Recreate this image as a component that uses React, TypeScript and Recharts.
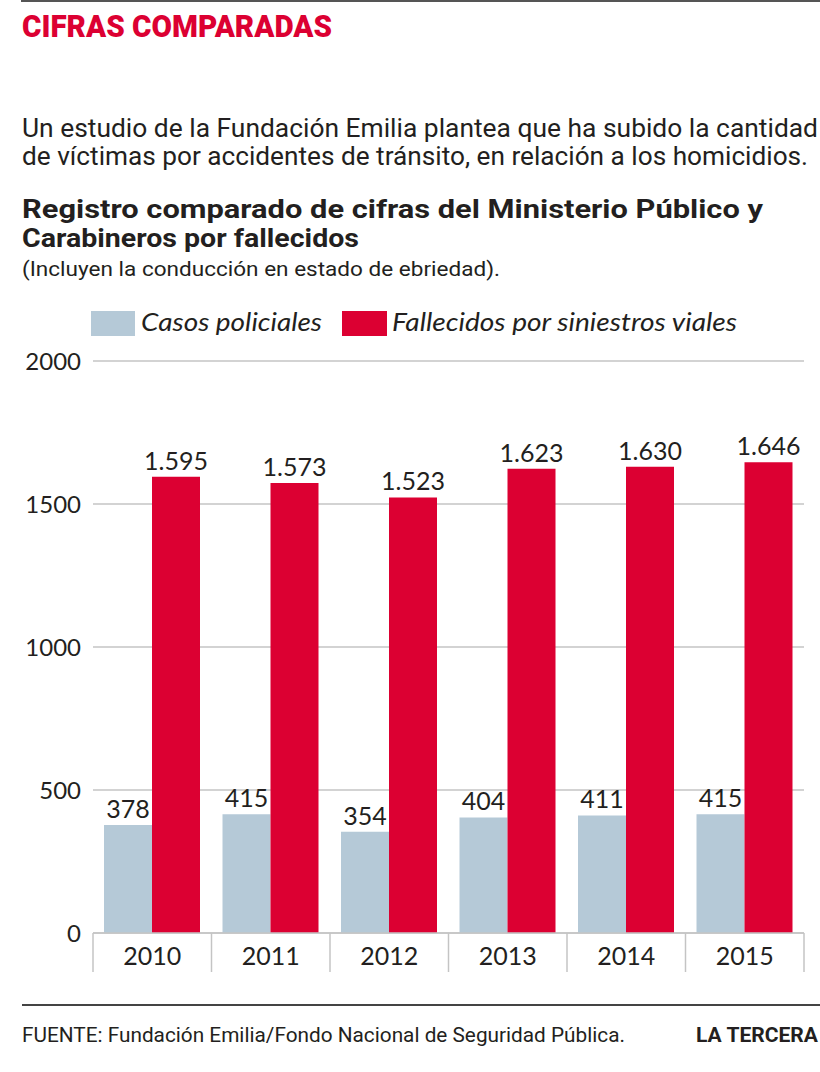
import { BarChart, Bar, XAxis, YAxis, CartesianGrid, LabelList } from 'recharts';

const YEARS = ['2010', '2011', '2012', '2013', '2014', '2015'];
const CASOS_POLICIALES = [378, 415, 354, 404, 411, 415];
const FALLECIDOS_SINIESTROS = [1595, 1573, 1523, 1623, 1630, 1646];
const Y_TICKS = [0, 500, 1000, 1500, 2000];

const SERIES_NAMES = ['Casos policiales', 'Fallecidos por siniestros viales'];

const GRAY = '#b5c9d7';
const RED = '#dc0032';
const INK = '#231f20';
const GRID = '#c4c4c4';

const CHART_W = 820;
const CHART_H = 650;
const MARGIN = { top: 21, right: 16, bottom: 17, left: 0 };
const Y_AXIS_W = 93;
const BAND = (CHART_W - MARGIN.left - MARGIN.right - Y_AXIS_W) / YEARS.length;

const data = YEARS.map((year, i) => ({
  year,
  casos: CASOS_POLICIALES[i],
  fallecidos: FALLECIDOS_SINIESTROS[i],
}));

// 1595 -> "1.595"
const fmtThousands = (v: any) => String(v).replace(/\B(?=(\d{3})+(?!\d))/g, '.');

function YearTick({ x, y, payload, index }: any) {
  const half = BAND / 2;
  return (
    <g>
      <line x1={x - half} x2={x - half} y1={y} y2={y + 39} stroke={GRID} strokeWidth={1.5} />
      {index === YEARS.length - 1 && (
        <line x1={x + half} x2={x + half} y1={y} y2={y + 39} stroke={GRID} strokeWidth={1.5} />
      )}
      <text x={x} y={y + 32} textAnchor="middle" fill={INK} fontSize={25} fontFamily="Lato">
        {payload.value}
      </text>
    </g>
  );
}

const sans = 'Roboto, "Noto Sans", sans-serif';

export default function App() {
  return (
    <div style={{ position: 'relative', width: 820, height: 1072, background: '#fff', overflow: 'hidden' }}>
      <style>{`body{margin:0}`}</style>

      <svg width={820} height={340} style={{ position: 'absolute', top: 0, left: 0 }}>
        <rect x={21} y={0} width={799} height={2} fill="#555" />
        <text x={22} y={37} fontSize={31} fontWeight={900} fill={RED} fontFamily={sans} textLength={310} lengthAdjust="spacingAndGlyphs">
          CIFRAS COMPARADAS
        </text>
        <text x={22} y={137} fontSize={26} fill={INK} fontFamily={sans} textLength={796} lengthAdjust="spacingAndGlyphs">
          Un estudio de la Fundación Emilia plantea que ha subido la cantidad
        </text>
        <text x={22} y={165} fontSize={26} fill={INK} fontFamily={sans} textLength={786} lengthAdjust="spacingAndGlyphs">
          de víctimas por accidentes de tránsito, en relación a los homicidios.
        </text>
        <text x={22} y={218} fontSize={26} fontWeight={700} fill={INK} fontFamily={sans} textLength={741} lengthAdjust="spacingAndGlyphs">
          Registro comparado de cifras del Ministerio Público y
        </text>
        <text x={22} y={247} fontSize={26} fontWeight={700} fill={INK} fontFamily={sans} textLength={337} lengthAdjust="spacingAndGlyphs">
          Carabineros por fallecidos
        </text>
        <text x={22} y={276} fontSize={21} fill={INK} fontFamily={sans} textLength={478} lengthAdjust="spacingAndGlyphs">
          (Incluyen la conducción en estado de ebriedad).
        </text>

        <rect x={91} y={311} width={44} height={25} fill={GRAY} />
        <text x={141} y={331} fontSize={25} fontStyle="italic" fill={INK} fontFamily="Lato" textLength={181} lengthAdjust="spacingAndGlyphs">
          {SERIES_NAMES[0]}
        </text>
        <rect x={342} y={311} width={45} height={25} fill={RED} />
        <text x={392} y={331} fontSize={25} fontStyle="italic" fill={INK} fontFamily="Lato" textLength={345} lengthAdjust="spacingAndGlyphs">
          {SERIES_NAMES[1]}
        </text>
      </svg>

      <div style={{ position: 'absolute', top: 340, left: 0 }}>
        <BarChart
          width={CHART_W}
          height={CHART_H}
          data={data}
          margin={MARGIN}
          barCategoryGap={11}
          barGap={0}
        >
          <CartesianGrid vertical={false} stroke={GRID} strokeWidth={1.5} />
          <XAxis
            dataKey="year"
            height={40}
            tickLine={false}
            tickSize={0}
            tickMargin={0}
            axisLine={{ stroke: GRID, strokeWidth: 1.5 }}
            tick={<YearTick />}
            interval={0}
          />
          <YAxis
            width={Y_AXIS_W}
            domain={[0, 2000]}
            ticks={Y_TICKS}
            axisLine={false}
            tickLine={false}
            tickSize={0}
            tickMargin={12}
            tick={{ fill: INK, fontSize: 24, fontFamily: 'Lato' }}
          />
          <Bar dataKey="casos" name={SERIES_NAMES[0]} fill={GRAY} isAnimationActive={false}>
            <LabelList dataKey="casos" position="top" offset={7} fill={INK} fontSize={25} fontFamily="Lato" />
          </Bar>
          <Bar dataKey="fallecidos" name={SERIES_NAMES[1]} fill={RED} isAnimationActive={false}>
            <LabelList
              dataKey="fallecidos"
              position="top"
              offset={7}
              formatter={fmtThousands}
              fill={INK}
              fontSize={25}
              fontFamily="Lato"
            />
          </Bar>
        </BarChart>
      </div>

      <svg width={820} height={82} style={{ position: 'absolute', top: 990, left: 0 }}>
        <rect x={22} y={14} width={798} height={2} fill="#444" />
        <text x={22} y={52} fontSize={21} fill={INK} fontFamily={sans} textLength={603} lengthAdjust="spacingAndGlyphs">
          FUENTE: Fundación Emilia/Fondo Nacional de Seguridad Pública.
        </text>
        <text x={696} y={52} fontSize={21} fontWeight={700} fill={INK} fontFamily={sans} textLength={122} lengthAdjust="spacingAndGlyphs">
          LA TERCERA
        </text>
      </svg>
    </div>
  );
}
